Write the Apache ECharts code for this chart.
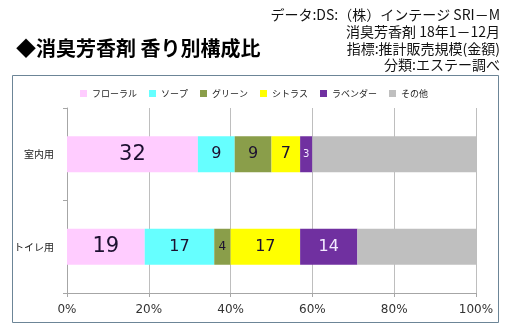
<!DOCTYPE html>
<html>
<head>
<meta charset="utf-8">
<script src="https://cdn.jsdelivr.net/npm/echarts@6/dist/echarts.min.js"></script>
<style>
  html, body { margin: 0; padding: 0; background: #fff; }
  #chart { width: 508px; height: 324px; }
</style>
</head>
<body>
<div id="chart"></div>
<script>
// Categories (top to bottom on the chart)
const categories = ['室内用', 'トイレ用'];

// Share of sales by fragrance type (%)
const floral   = [32, 19];
const soap     = [9, 17];
const green    = [9, 4];
const citrus   = [7, 17];
const lavender = [3, 14];
const others   = [40, 29];

const seriesNames = ['フローラル', 'ソープ', 'グリーン', 'シトラス', 'ラベンダー', 'その他'];
const xTicks = ['0%', '20%', '40%', '60%', '80%', '100%'];

const sourceLines = [
  'データ:DS:（株）インテージ SRI－M',
  '消臭芳香剤 18年1－12月',
  '指標:推計販売規模(金額)',
  '分類:エステー調べ'
];
const titleText = '◆消臭芳香剤 香り別構成比';

const colors = ['#FFCCFF', '#66FFFF', '#8A9E4A', '#FFFF00', '#7030A0', '#BFBFBF'];
const labelColors = ['#1c1030', '#1c1030', '#1c1030', '#1c1030', '#f3eaff', '#1c1030'];
// label font size per series, per category
const labelSizes = [[21, 21], [16, 16], [16, 12], [16, 16], [10, 16], [16, 16]];

const values = [floral, soap, green, citrus, lavender, others];

const chart = echarts.init(document.getElementById('chart'), null, { renderer: 'canvas' });

const series = values.map((arr, si) => ({
  name: seriesNames[si],
  type: 'bar',
  stack: 'total',
  barWidth: 36,
  itemStyle: { color: colors[si] },
  emphasis: { disabled: true },
  data: arr.map((v, ci) => ({
    value: v,
    label: {
      show: si < 5,
      position: 'inside',
      fontFamily: 'DejaVu Sans',
      fontSize: labelSizes[si][ci],
      color: labelColors[si]
    }
  }))
}));

const rightText = sourceLines.map((t, i) => ({
  type: 'text',
  right: 8,
  top: 8 + i * 16.7,
  style: {
    text: t,
    font: '14px "Noto Sans CJK JP"',
    fill: '#111',
    textAlign: 'right'
  }
}));

chart.setOption({
  animation: false,
  backgroundColor: '#fff',
  color: colors,
  graphic: [
    {
      type: 'rect',
      shape: { x: 12.5, y: 75.5, width: 486, height: 247 },
      style: { fill: 'none', stroke: '#6C8597', lineWidth: 1 },
      z: -1
    },
    {
      type: 'text',
      left: 16,
      top: 38,
      style: {
        text: titleText,
        font: 'bold 20px "Noto Sans CJK JP"',
        fill: '#000'
      }
    }
  ].concat(rightText),
  legend: {
    data: seriesNames,
    top: 84,
    left: 'center',
    itemWidth: 7,
    itemHeight: 7,
    itemGap: 12,
    icon: 'rect',
    textStyle: { fontFamily: 'Noto Sans CJK JP', fontSize: 9, color: '#222' }
  },
  grid: { left: 67, right: 32, top: 108, bottom: 31 },
  xAxis: {
    type: 'value',
    min: 0,
    max: 100,
    interval: 20,
    axisLine: { show: true, lineStyle: { color: '#A6A6A6' } },
    axisTick: { show: true, length: 4, lineStyle: { color: '#A6A6A6' } },
    splitLine: { show: true, lineStyle: { color: '#BEBEBE' } },
    axisLabel: {
      formatter: (v) => xTicks[v / 20],
      fontFamily: 'DejaVu Sans',
      fontSize: 12,
      color: '#333',
      margin: 11
    }
  },
  yAxis: {
    type: 'category',
    inverse: true,
    data: categories,
    axisLine: { show: true, lineStyle: { color: '#A6A6A6' } },
    axisTick: { show: true, length: 4, lineStyle: { color: '#A6A6A6' } },
    axisLabel: {
      fontFamily: 'Noto Sans CJK JP',
      fontSize: 10,
      color: '#222',
      margin: 13
    }
  },
  series: series
});
</script>
</body>
</html>
